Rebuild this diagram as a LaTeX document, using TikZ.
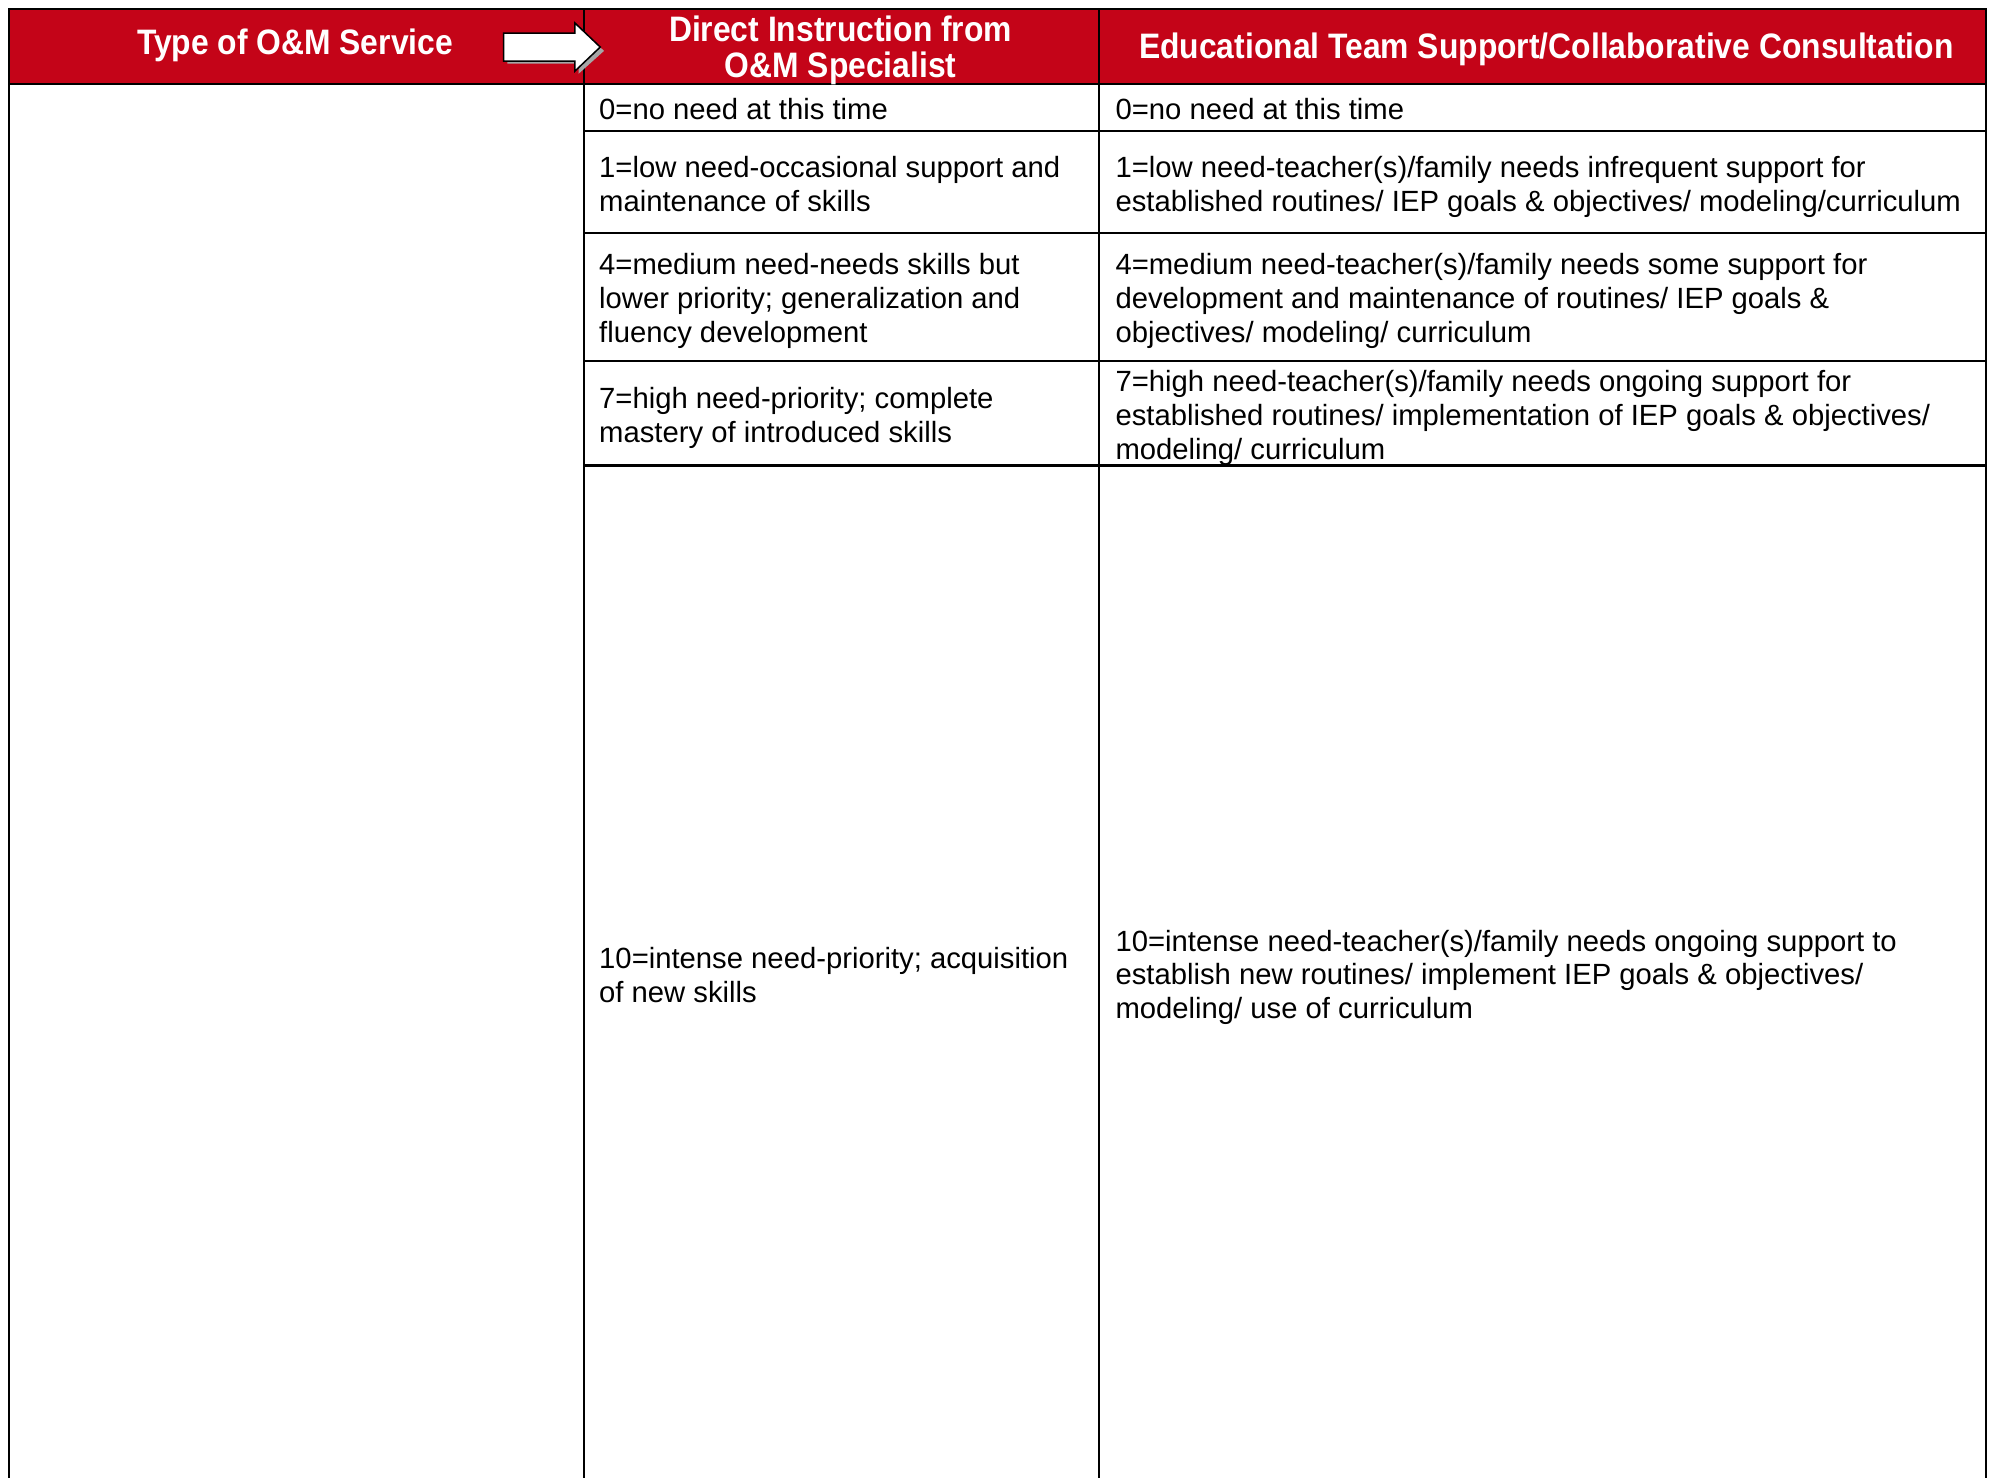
\documentclass[tikz,border=0pt]{standalone}
\usepackage{fontspec}
\setmainfont{Liberation Sans}
\newfontfamily\hdrfont[FakeStretch=0.9]{Liberation Sans}
\definecolor{hdrred}{RGB}{196,4,24}
\begin{document}
\begin{tikzpicture}[x=1pt,y=-1pt,
  grid/.style={line width=1.7pt,black},
  hdr/.style={text=white,font=\hdrfont\bfseries\fontsize{27.8}{28}\selectfont,align=center,inner sep=0pt},
  cell/.style={anchor=base west,align=left,inner sep=0pt,font=\fontsize{23}{26.5}\selectfont}]
\useasboundingbox (0,0) rectangle (1568,1162);
\clip (0,0) rectangle (1568,1162);
% header band
\fill[hdrred] (7,7) rectangle (1562,66);
% grid
\draw[grid] (7,1168) -- (7,7) -- (1562,7) -- (1562,1168);
\draw[grid] (7,66) -- (1562,66);
\draw[grid] (459,7) -- (459,1168);
\draw[grid] (864,7) -- (864,1168);
\foreach \yy in {103,183,284,366} \draw[grid] (459,\yy) -- (1562,\yy);
\draw[grid] (7,1166) -- (1562,1166);
% arrow
\fill[gray!70] (399,30) -- (455,30) -- (455,22) -- (475,40) -- (455,58) -- (455,50) -- (399,50) -- cycle;
\draw[fill=white,line width=1.2pt] (396,26) -- (452,26) -- (452,18) -- (472,37) -- (452,56) -- (452,48) -- (396,48) -- cycle;
% header texts
\node[hdr] (h1) at (232,36) {Type of O\&M Service};
\node[hdr] (h2) at (661,39.5) {Direct Instruction from\\O\&M Specialist};
\node[hdr] (h3) at (1216,38.5) {Educational Team Support/Collaborative Consultation};
% column 2 (anchor = baseline of last line)
\node[cell] (a0) at (471,94) {0=no need at this time};
\node[cell] (a1) at (471,166) {1=low need-occasional support and\\maintenance of skills};
\node[cell] (a4) at (471,269) {4=medium need-needs skills but\\lower priority; generalization and\\fluency development};
\node[cell] (a7) at (471,348) {7=high need-priority; complete\\mastery of introduced skills};
\node[cell] (a10) at (471,788) {10=intense need-priority; acquisition\\of new skills};
% column 3
\node[cell] (b0) at (877,94) {0=no need at this time};
\node[cell] (b1) at (877,166) {1=low need-teacher(s)/family needs infrequent support for\\established routines/ IEP goals \& objectives/ modeling/curriculum};
\node[cell] (b4) at (877,269) {4=medium need-teacher(s)/family needs some support for\\development and maintenance of routines/ IEP goals \&\\objectives/ modeling/ curriculum};
\node[cell] (b7) at (877,361) {7=high need-teacher(s)/family needs ongoing support for\\established routines/ implementation of IEP goals \& objectives/\\modeling/ curriculum};
\node[cell] (b10) at (877,801) {10=intense need-teacher(s)/family needs ongoing support to\\establish new routines/ implement IEP goals \& objectives/\\modeling/ use of curriculum};
\end{tikzpicture}
\end{document}
